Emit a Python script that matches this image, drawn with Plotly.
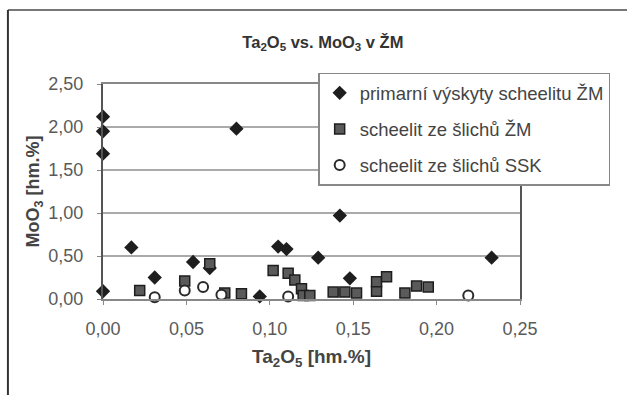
import plotly.graph_objects as go

# --- data ---
prim_x = [0.0, 0.0, 0.0, 0.0, 0.017, 0.031, 0.054, 0.064, 0.080, 0.094, 0.105, 0.110, 0.129, 0.142, 0.148, 0.233]
prim_y = [2.12, 1.95, 1.69, 0.09, 0.60, 0.25, 0.43, 0.36, 1.98, 0.03, 0.61, 0.58, 0.48, 0.97, 0.24, 0.48]

zm_x = [0.022, 0.049, 0.064, 0.073, 0.083, 0.102, 0.111, 0.115, 0.119, 0.120, 0.124,
        0.138, 0.145, 0.152, 0.164, 0.164, 0.170, 0.181, 0.188, 0.195]
zm_y = [0.10, 0.21, 0.41, 0.07, 0.06, 0.33, 0.30, 0.22, 0.12, 0.04, 0.04,
        0.08, 0.08, 0.07, 0.09, 0.20, 0.26, 0.07, 0.15, 0.14]

ssk_x = [0.031, 0.049, 0.060, 0.071, 0.111, 0.219]
ssk_y = [0.02, 0.10, 0.14, 0.05, 0.03, 0.04]

names = ["primarní výskyty scheelitu ŽM", "scheelit ze šlichů ŽM", "scheelit ze šlichů SSK"]
x_ticks = [0.0, 0.05, 0.10, 0.15, 0.20, 0.25]
y_ticks = [0.0, 0.5, 1.0, 1.5, 2.0, 2.5]

FONT = "Liberation Sans, Arial, sans-serif"

fig = go.Figure()
fig.add_trace(go.Scatter(
    x=prim_x, y=prim_y, mode="markers", name=names[0], legendgroup="a",
    marker=dict(symbol="diamond", size=11, color="#1e1e1e", line=dict(width=0)),
    cliponaxis=False))
fig.add_trace(go.Scatter(
    x=zm_x, y=zm_y, mode="markers", name=names[1], legendgroup="b",
    marker=dict(symbol="square", size=10, color="#5a5a5a", line=dict(width=1.5, color="#1e1e1e")),
    cliponaxis=False))
fig.add_trace(go.Scatter(
    x=ssk_x, y=ssk_y, mode="markers", name=names[2], legendgroup="c",
    marker=dict(symbol="circle", size=10, color="white", line=dict(width=2, color="#2a2a2a")),
    cliponaxis=False))

fig.update_layout(
    template="none",
    width=627, height=395,
    margin=dict(l=103, r=107, t=84, b=96, autoexpand=False),
    paper_bgcolor="white", plot_bgcolor="white",
    separators=", ",
    font=dict(family=FONT, size=12, color="#444"),
    title=dict(text="<b>Ta<sub>2</sub>O<sub>5</sub> vs. MoO<sub>3</sub> v ŽM</b>",
               x=0.515, xanchor="center", y=0.894, yanchor="middle",
               font=dict(family=FONT, size=16.5, color="#333")),
    showlegend=True,
    legend=dict(x=0.516, y=1.052, xanchor="left", yanchor="top",
                bgcolor="white", bordercolor="#888", borderwidth=1.5,
                font=dict(family=FONT, size=18.5, color="#444"),
                tracegroupgap=9, itemwidth=30,
                traceorder="grouped"),
    xaxis=dict(range=[0, 0.25], tickvals=x_ticks, tickformat=".2f",
               showgrid=False, zeroline=False, automargin=False,
               showline=True, linecolor="#888", linewidth=2, mirror=True,
               ticks="outside", ticklen=4, tickcolor="#888",
               ticklabelstandoff=8,
               tickfont=dict(family=FONT, size=18, color="#5a5a5a"),
               title=dict(text="<b>Ta<sub>2</sub>O<sub>5</sub> [hm.%]</b>", standoff=12,
                          font=dict(family=FONT, size=19, color="#444"))),
    yaxis=dict(range=[0, 2.5], tickvals=y_ticks, tickformat=".2f",
               showgrid=True, gridcolor="#aaaaaa", gridwidth=2,
               zeroline=False, automargin=False,
               showline=True, linecolor="#555", linewidth=2, mirror=True,
               ticks="outside", ticklen=4, tickcolor="#888",
               ticklabelstandoff=10,
               tickfont=dict(family=FONT, size=18, color="#5a5a5a"),
               title=dict(text="<b>MoO<sub>3</sub> [hm.%]</b>", standoff=4,
                          font=dict(family=FONT, size=18, color="#444"))),
)

# outer chart frame (top and left edges)
fig.add_shape(type="line", xref="paper", yref="paper",
              x0=-0.228, x1=1.3, y0=1.344, y1=1.344, line=dict(color="#777", width=2))
fig.add_shape(type="line", xref="paper", yref="paper",
              x0=-0.228, x1=-0.228, y0=-0.5, y1=1.344, line=dict(color="#333", width=2))

fig.write_html("out.html", config={"displayModeBar": False},
               post_script="document.body.style.margin='0px';")
